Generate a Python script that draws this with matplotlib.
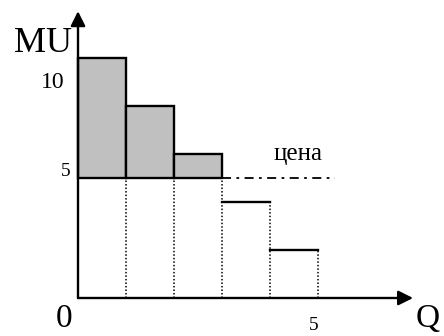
import matplotlib
matplotlib.use("Agg")
import matplotlib.pyplot as plt

# marginal utility of each unit and the price
mu    = [10, 8, 6, 4, 2]
price = 5
q_lbl = [0, 5]

plt.rcParams["font.family"] = ["Liberation Serif", "DejaVu Serif"]

fig = plt.figure(figsize=(4.44, 3.36), dpi=100)
ax  = fig.add_axes([0, 0, 1, 1])
ax.set_xlim(-78 / 48, (444 - 78) / 48)
ax.set_ylim(-(336 - 298) / 24, 298 / 24)
ax.axis("off")

lw = 1.7
for i, v in enumerate(mu):
    if v > price:
        # consumer surplus part (gray) above the price
        ax.bar(i, v - price, width=1, bottom=price, align="edge",
               facecolor="#c0c0c0", edgecolor="black", linewidth=lw, zorder=3)
    else:
        ax.plot([i, i + 1], [v, v], color="black", lw=lw, zorder=3)
    # dotted verticals under the price line
    ax.plot([i + 1, i + 1], [0, min(price, v)], color="black", lw=1.1,
            linestyle=(0, (1, 1.3)), zorder=2)

# price line
ax.plot([3, 5.35], [price, price], color="black", lw=1.3,
        linestyle=(0, (5, 3, 1.5, 3)), zorder=2)
ax.text(4.08, 5.55, "цена", fontsize=18, ha="left", va="bottom")

# axes with arrows
arrow = dict(arrowstyle="-|>", color="black", lw=lw, mutation_scale=22,
             shrinkA=0, shrinkB=0)
ax.annotate("", xy=(6.98, 0), xytext=(0, 0), arrowprops=arrow)
ax.annotate("", xy=(0, 11.95), xytext=(0, 0), arrowprops=arrow)

ax.text(-0.12, 10.6, "MU", fontsize=26, ha="right", va="center")
ax.text(-0.28, 9.0, "10", fontsize=17, ha="right", va="center")
ax.text(-0.16, 5.25, "5", fontsize=14, ha="right", va="center")
ax.text(-0.28, -0.85, str(q_lbl[0]), fontsize=24, ha="center", va="center")
ax.text(q_lbl[1] - 0.1, -1.15, str(q_lbl[1]), fontsize=14, ha="center", va="center")
ax.text(7.28, -0.85, "Q", fontsize=24, ha="center", va="center")

fig.savefig("out.png", dpi=100)
